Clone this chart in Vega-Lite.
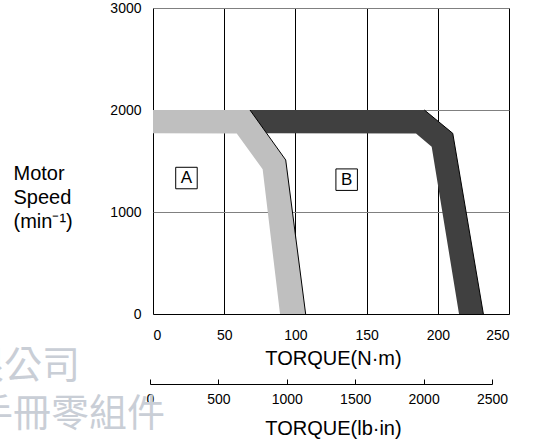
{
  "$schema": "https://vega.github.io/schema/vega-lite/v6.json",
  "width": 356,
  "height": 306,
  "autosize": {"type": "none"},
  "padding": {"left": 153, "top": 8, "right": 32, "bottom": 129},
  "background": "white",
  "config": {
    "view": {"stroke": "#808080", "strokeWidth": 1},
    "font": "Liberation Sans",
    "axis": {
      "labelFont": "Liberation Sans",
      "titleFont": "Liberation Sans",
      "labelColor": "black",
      "titleColor": "black",
      "labelFontSize": 14,
      "titleFontSize": 20,
      "titleFontWeight": "normal"
    }
  },
  "datasets": {
    "bands": [
      {"band": "A", "speed": 2000, "inner": 0, "outer": 68.1},
      {"band": "A", "speed": 1771, "inner": 0, "outer": 79.8},
      {"band": "A", "speed": 1770, "inner": 58.8, "outer": 79.8},
      {"band": "A", "speed": 1510, "inner": 72.3, "outer": 93.2},
      {"band": "A", "speed": 1418, "inner": 77.0, "outer": 94.05},
      {"band": "A", "speed": 0, "inner": 89.2, "outer": 107.2},
      {"band": "B", "speed": 2000, "inner": 68.1, "outer": 190.6},
      {"band": "B", "speed": 1771, "inner": 79.8, "outer": 210.5},
      {"band": "B", "speed": 1770, "inner": 184.7, "outer": 210.5},
      {"band": "B", "speed": 1640, "inner": 195.7, "outer": 212.1},
      {"band": "B", "speed": 0, "inner": 214.9, "outer": 232.0}
    ],
    "outline": [
      {"edge": "A", "o": 1, "t": 68.1, "speed": 2000},
      {"edge": "A", "o": 2, "t": 93.2, "speed": 1510},
      {"edge": "A", "o": 3, "t": 107.2, "speed": 0},
      {"edge": "B", "o": 1, "t": 190.6, "speed": 2000},
      {"edge": "B", "o": 2, "t": 210.5, "speed": 1771},
      {"edge": "B", "o": 3, "t": 232.0, "speed": 0}
    ],
    "labels": [
      {"label": "A", "t": 23.5, "speed": 1333},
      {"label": "B", "t": 136, "speed": 1317}
    ],
    "watermark": [
      {"text": "有限公司", "t": -51.3, "speed": -520},
      {"text": "手冊零組件", "t": 8.4, "speed": -990}
    ],
    "lbaxis": [{"lb": 0}, {"lb": 2500}]
  },
  "layer": [
    {
      "layer": [
        {
          "data": {"name": "bands"},
          "mark": {"type": "area", "orient": "horizontal", "interpolate": "linear"},
          "encoding": {
            "y": {
              "field": "speed",
              "type": "quantitative",
              "scale": {"domain": [0, 3000], "nice": false},
              "axis": {
                "values": [0, 1000, 2000, 3000],
                "format": "d",
                "grid": true,
                "gridColor": "#808080",
                "gridOpacity": 1,
                "ticks": false,
                "domain": false,
                "labelPadding": 12,
                "labelFlush": false,
                "title": ["Motor", "Speed", "(min⁻¹)"],
                "titleAngle": 0,
                "titleAlign": "left",
                "titleBaseline": "alphabetic",
                "titleX": -140,
                "titleY": 171,
                "titleLineHeight": 24
              }
            },
            "x": {
              "field": "inner",
              "type": "quantitative",
              "scale": {"domain": [0, 250], "nice": false},
              "axis": {
                "values": [0, 50, 100, 150, 200, 250],
                "format": "d",
                "grid": true,
                "gridColor": "black",
                "gridOpacity": 1,
                "ticks": false,
                "domain": true,
                "domainColor": "black",
                "labelPadding": 14,
                "title": "TORQUE(N·m)",
                "titleX": 180,
                "titleY": 50,
                "titleAlign": "center",
                "titleBaseline": "alphabetic"
              }
            },
            "x2": {"field": "outer"},
            "color": {
              "field": "band",
              "type": "nominal",
              "scale": {"domain": ["A", "B"], "range": ["#bfbfbf", "#404040"]},
              "legend": null
            }
          }
        },
        {
          "data": {"name": "outline"},
          "mark": {"type": "line", "color": "black", "strokeWidth": 1},
          "encoding": {
            "x": {"field": "t", "type": "quantitative"},
            "y": {"field": "speed", "type": "quantitative"},
            "detail": {"field": "edge", "type": "nominal"},
            "order": {"field": "o", "type": "quantitative"}
          }
        },
        {
          "data": {"name": "labels"},
          "mark": {"type": "point", "shape": "square", "size": 462, "filled": false, "color": "black", "strokeWidth": 1, "opacity": 1},
          "encoding": {
            "x": {"field": "t", "type": "quantitative"},
            "y": {"field": "speed", "type": "quantitative"}
          }
        },
        {
          "data": {"name": "labels"},
          "mark": {"type": "text", "fontSize": 17, "font": "Liberation Sans", "color": "black", "baseline": "middle", "align": "center"},
          "encoding": {
            "x": {"field": "t", "type": "quantitative"},
            "y": {"field": "speed", "type": "quantitative"},
            "text": {"field": "label"}
          }
        },
        {
          "data": {"name": "watermark"},
          "mark": {"type": "text", "fontSize": 38, "font": "Noto Sans CJK TC", "color": "#c9ced6", "align": "right", "baseline": "middle"},
          "encoding": {
            "x": {"field": "t", "type": "quantitative"},
            "y": {"field": "speed", "type": "quantitative"},
            "text": {"field": "text"}
          }
        }
      ]
    },
    {
      "data": {"name": "lbaxis"},
      "mark": {"type": "point", "opacity": 0},
      "encoding": {
        "x": {
          "field": "lb",
          "type": "quantitative",
          "scale": {"domain": [0, 2500], "range": [-3, 339], "nice": false},
          "axis": {
            "orient": "bottom",
            "offset": 70,
            "values": [0, 500, 1000, 1500, 2000, 2500],
            "format": "d",
            "grid": false,
            "ticks": true,
            "tickSize": -5,
            "tickColor": "black",
            "domain": true,
            "domainColor": "black",
            "labelPadding": 13,
            "labelFlush": false,
            "title": "TORQUE(lb·in)",
            "titleX": 180,
            "titleY": 50,
            "titleAlign": "center",
            "titleBaseline": "alphabetic"
          }
        }
      }
    }
  ],
  "resolve": {"scale": {"x": "independent"}, "axis": {"x": "independent"}}
}
